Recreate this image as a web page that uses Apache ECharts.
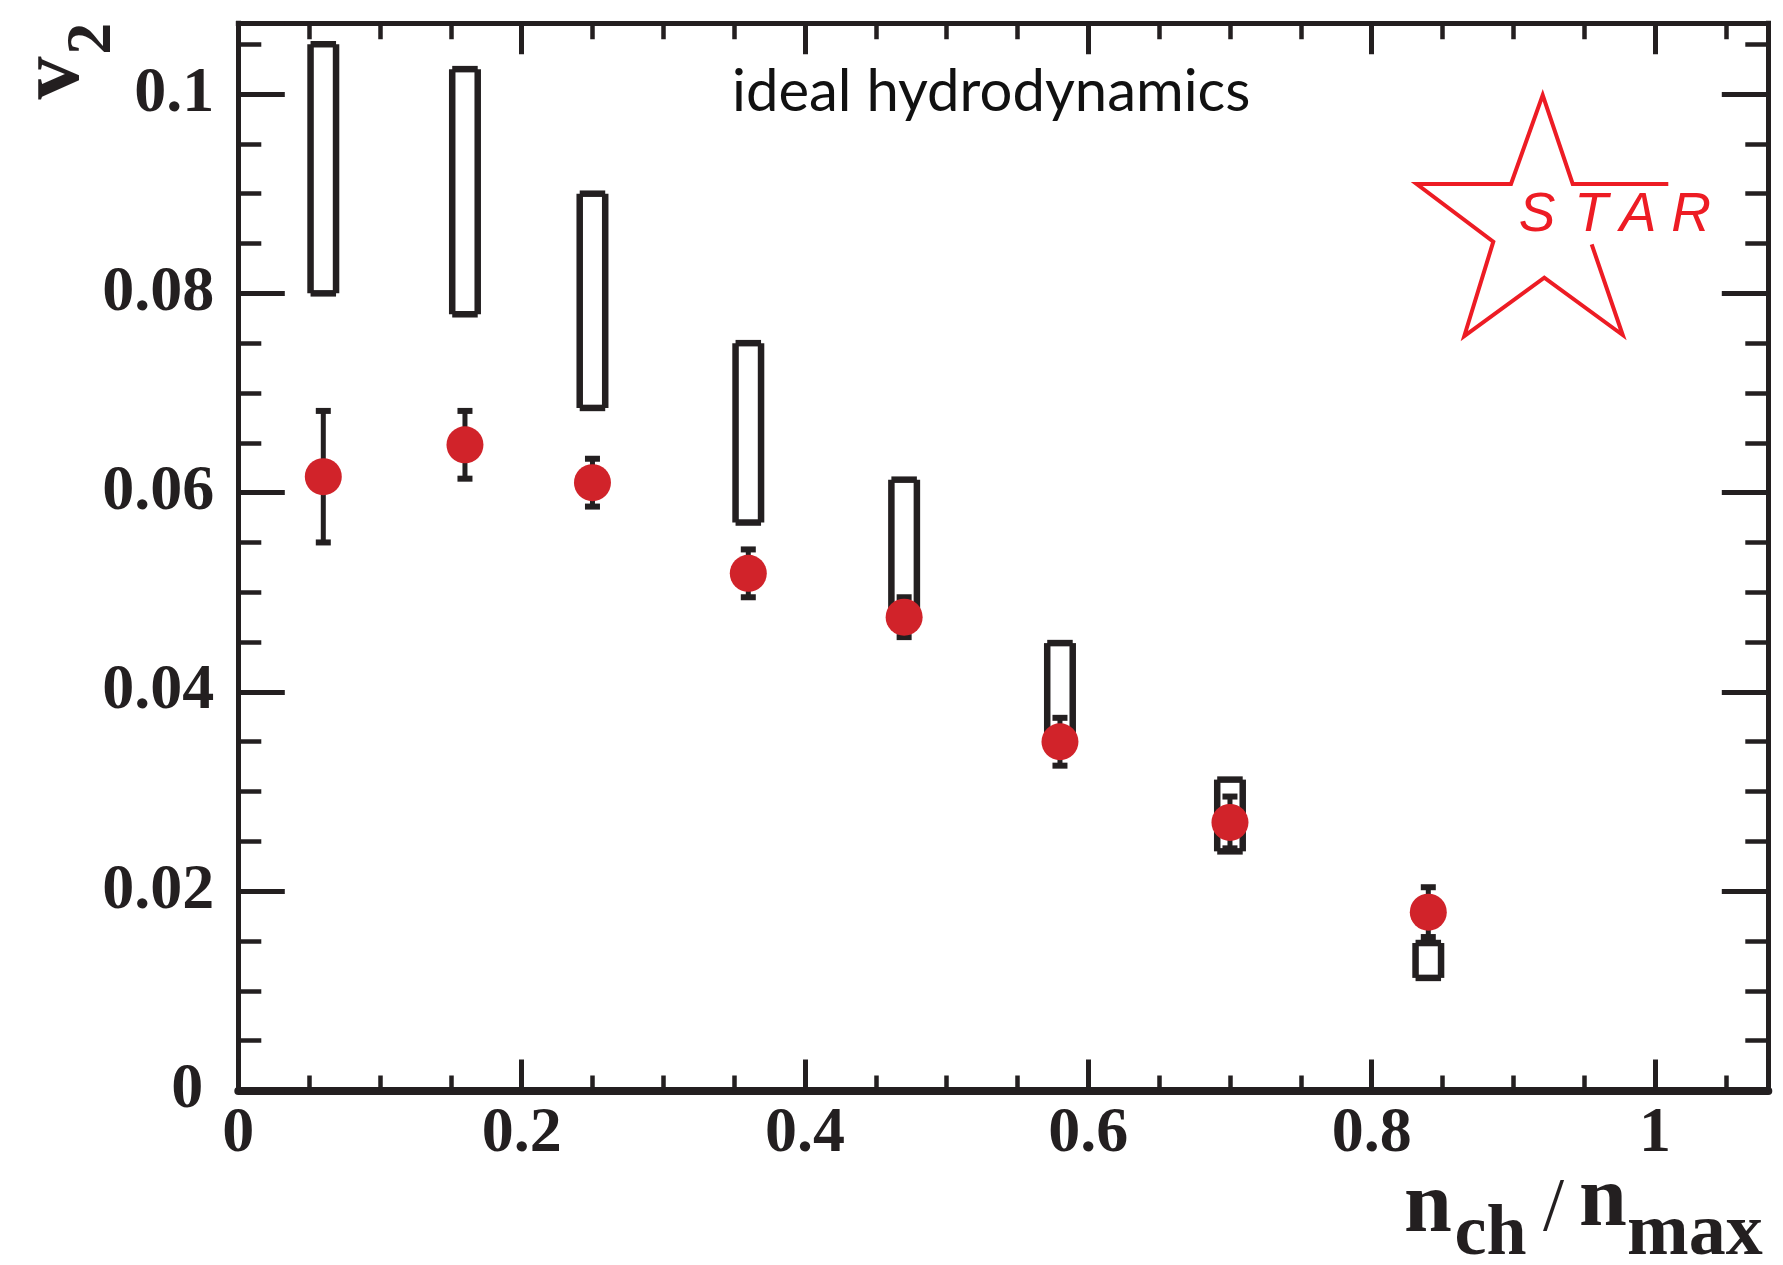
<!DOCTYPE html>
<html>
<head>
<meta charset="utf-8">
<title>v2 vs n_ch/n_max</title>
<script src="https://cdn.jsdelivr.net/npm/echarts@6/dist/echarts.min.js"></script>
<style>
  html, body { margin: 0; padding: 0; background: #ffffff; }
  #chart { width: 1783px; height: 1265px; }
</style>
</head>
<body>
<div id="chart"></div>
<script>
// Centrality bins, expressed as n_ch / n_max
const nchFrac = [0.06, 0.16, 0.25, 0.36, 0.47, 0.58, 0.70, 0.84];
// Measured elliptic flow v2 and its (symmetric) statistical error
const v2 = [0.0616, 0.0648, 0.0610, 0.0519, 0.0475, 0.0350, 0.0269, 0.0179];
const v2Err = [0.0066, 0.0034, 0.0024, 0.0024, 0.0020, 0.0024, 0.0026, 0.0025];
// Ideal hydrodynamics prediction: lower and upper edge of each band
const hydroLow = [0.0800, 0.0779, 0.0685, 0.0570, 0.0470, 0.0355, 0.0240, 0.0113];
const hydroHigh = [0.1050, 0.1025, 0.0900, 0.0750, 0.0613, 0.0449, 0.0312, 0.0148];
// Axis ranges and major tick steps
const xRange = [0, 1.08];
const yRange = [0, 0.1071];
const xStep = 0.2;
const yStep = 0.02;

const INK = '#231f20';
const DOT = '#d1232a';
const LOGO = '#ed1c24';
const SERIF = "'Liberation Serif', 'Times New Roman', serif";
const SANS = "'Liberation Sans', Arial, sans-serif";
const HUMANIST = "Lato, 'Open Sans', sans-serif";

const pointData = nchFrac.map((x, i) => [x, v2[i], v2Err[i]]);
const bandData = nchFrac.map((x, i) => [x, hydroLow[i], hydroHigh[i]]);

// text placed by its baseline (zrender draws with a 'middle' baseline)
function txt(text, x, baseline, size, o) {
  o = o || {};
  const k = o.k != null ? o.k : 0.3375;
  return {
    type: 'text', x: x, y: baseline - k * size, rotation: o.rot || 0, silent: true, z: 100,
    style: {
      text: text, fontSize: size, fontFamily: o.family || SERIF,
      fontWeight: o.weight || 'normal', fontStyle: o.italic ? 'italic' : 'normal',
      fill: o.color || INK, align: o.align || 'left', verticalAlign: 'middle',
      textAlign: o.align || 'left', textVerticalAlign: 'middle'
    }
  };
}

function baseAxis(extra) {
  return Object.assign({
    type: 'value',
    splitLine: { show: false },
    minorSplitLine: { show: false },
    axisLine: { show: true, onZero: false, lineStyle: { color: INK, width: 5, cap: 'square' } },
    axisTick: { show: true, inside: true, lineStyle: { color: INK, width: 5 } },
    minorTick: { show: true, splitNumber: 4, lineStyle: { color: INK, width: 4.5 } }
  }, extra);
}

const tickFont = { fontFamily: SERIF, fontWeight: 'bold', fontSize: 64, color: INK };

const chart = echarts.init(document.getElementById('chart'), null, { renderer: 'canvas' });

chart.setOption({
  animation: false,
  backgroundColor: '#ffffff',
  grid: { left: 238.3, right: 14.7, top: 23.3, bottom: 174.5, outerBoundsMode: 'none' },
  xAxis: [
    baseAxis({
      position: 'bottom', min: xRange[0], max: xRange[1], interval: xStep,
      axisLine: { show: true, onZero: false, lineStyle: { color: INK, width: 8 } },
      axisTick: { show: true, inside: true, length: 31, lineStyle: { color: INK, width: 5 } },
      minorTick: { show: true, splitNumber: 4, length: 15, lineStyle: { color: INK, width: 4.5 } },
      axisLabel: Object.assign({ margin: 12, showMaxLabel: false, showMinLabel: true }, tickFont)
    }),
    baseAxis({
      position: 'top', min: xRange[0], max: xRange[1], interval: xStep,
      axisTick: { show: true, inside: true, length: 31, lineStyle: { color: INK, width: 5 } },
      minorTick: { show: true, splitNumber: 4, length: 16, lineStyle: { color: INK, width: 4.5 } },
      axisLabel: { show: false }
    })
  ],
  yAxis: [
    baseAxis({
      position: 'left', min: yRange[0], max: yRange[1], interval: yStep,
      axisTick: { show: true, inside: true, length: 46.5, lineStyle: { color: INK, width: 5 } },
      minorTick: { show: true, splitNumber: 4, length: 23, lineStyle: { color: INK, width: 4.5 } },
      axisLabel: Object.assign({
        margin: 24, showMaxLabel: false,
        formatter: v => (v === 0 ? '{z|0}' : '{d|' + v + '}'),
        rich: {
          z: Object.assign({ padding: [0, 11, 0, 0] }, tickFont),
          d: Object.assign({}, tickFont)
        }
      }, tickFont)
    }),
    baseAxis({
      position: 'right', min: yRange[0], max: yRange[1], interval: yStep,
      axisTick: { show: true, inside: true, length: 46.5, lineStyle: { color: INK, width: 5 } },
      minorTick: { show: true, splitNumber: 4, length: 23, lineStyle: { color: INK, width: 4.5 } },
      axisLabel: { show: false }
    })
  ],
  series: [
    {
      // hydrodynamics bands: open boxes drawn as four butt-capped strokes
      name: 'ideal hydrodynamics',
      type: 'custom',
      xAxisIndex: 0, yAxisIndex: 0,
      data: bandData,
      z: 2,
      renderItem: function (params, api) {
        const x = api.value(0);
        const top = api.coord([x, api.value(2)]);
        const bot = api.coord([x, api.value(1)]);
        const hw = 12.75;
        const st = { stroke: INK, lineWidth: 6.5, fill: null, lineCap: 'butt' };
        return {
          type: 'group',
          children: [
            { type: 'line', shape: { x1: top[0] - hw, y1: top[1], x2: top[0] + hw, y2: top[1] }, style: st },
            { type: 'line', shape: { x1: bot[0] - hw, y1: bot[1], x2: bot[0] + hw, y2: bot[1] }, style: st },
            { type: 'line', shape: { x1: top[0] - hw, y1: top[1], x2: bot[0] - hw, y2: bot[1] }, style: st },
            { type: 'line', shape: { x1: top[0] + hw, y1: top[1], x2: bot[0] + hw, y2: bot[1] }, style: st }
          ]
        };
      }
    },
    {
      // statistical error bars with end caps
      name: 'v2 error',
      type: 'custom',
      xAxisIndex: 0, yAxisIndex: 0,
      data: pointData,
      z: 3,
      renderItem: function (params, api) {
        const x = api.value(0), y = api.value(1), e = api.value(2);
        const hi = api.coord([x, y + e]);
        const lo = api.coord([x, y - e]);
        const cw = 7.5;
        const bar = { stroke: INK, lineWidth: 5, lineCap: 'butt' };
        const cap = { stroke: INK, lineWidth: 6, lineCap: 'butt' };
        return {
          type: 'group',
          children: [
            { type: 'line', shape: { x1: hi[0], y1: hi[1], x2: lo[0], y2: lo[1] }, style: bar },
            { type: 'line', shape: { x1: hi[0] - cw, y1: hi[1], x2: hi[0] + cw, y2: hi[1] }, style: cap },
            { type: 'line', shape: { x1: lo[0] - cw, y1: lo[1], x2: lo[0] + cw, y2: lo[1] }, style: cap }
          ]
        };
      }
    },
    {
      name: 'STAR v2',
      type: 'scatter',
      xAxisIndex: 0, yAxisIndex: 0,
      data: pointData,
      symbol: 'circle',
      symbolSize: 37,
      itemStyle: { color: DOT, opacity: 1 },
      z: 4
    }
  ],
  graphic: [
    // y-axis title: v with subscript 2, reading upward
    txt('v', 55.5, 78, 86, { weight: 'bold', align: 'center', k: 0, rot: Math.PI / 2 }),
    txt('2', 93, 38.7, 64, { weight: 'bold', align: 'center', k: 0, rot: Math.PI / 2 }),
    // x-axis title: n_ch / n_max
    txt('n', 1404, 1238.3, 86, { weight: 'bold' }),
    txt('ch', 1454.5, 1260, 72, { weight: 'bold' }),
    txt('/', 1543, 1236, 76, {}),
    txt('n', 1579, 1231.7, 86, { weight: 'bold' }),
    txt('max', 1627, 1260, 74, { weight: 'bold' }),
    // model label
    txt('ideal hydrodynamics', 732, 115, 58, { family: HUMANIST, color: '#111111', k: 0.387 }),
    // STAR logo
    {
      type: 'polyline', silent: true, z: 100,
      shape: {
        points: [
          [1591.7, 244.3], [1622.7, 335], [1544.3, 277.7], [1464.3, 336],
          [1493.3, 241.7], [1416.7, 184], [1511, 184], [1542.7, 95],
          [1572.7, 184], [1668.3, 184]
        ]
      },
      style: { stroke: LOGO, lineWidth: 4, fill: null, lineJoin: 'miter', lineCap: 'butt' }
    },
    txt('S', 1537, 235, 55, { family: SANS, italic: true, color: LOGO, align: 'center', k: 0.3465 }),
    txt('T', 1591, 235, 55, { family: SANS, italic: true, color: LOGO, align: 'center', k: 0.3465 }),
    txt('A', 1638, 235, 55, { family: SANS, italic: true, color: LOGO, align: 'center', k: 0.3465 }),
    txt('R', 1691, 235, 55, { family: SANS, italic: true, color: LOGO, align: 'center', k: 0.3465 })
  ]
});
</script>
</body>
</html>
